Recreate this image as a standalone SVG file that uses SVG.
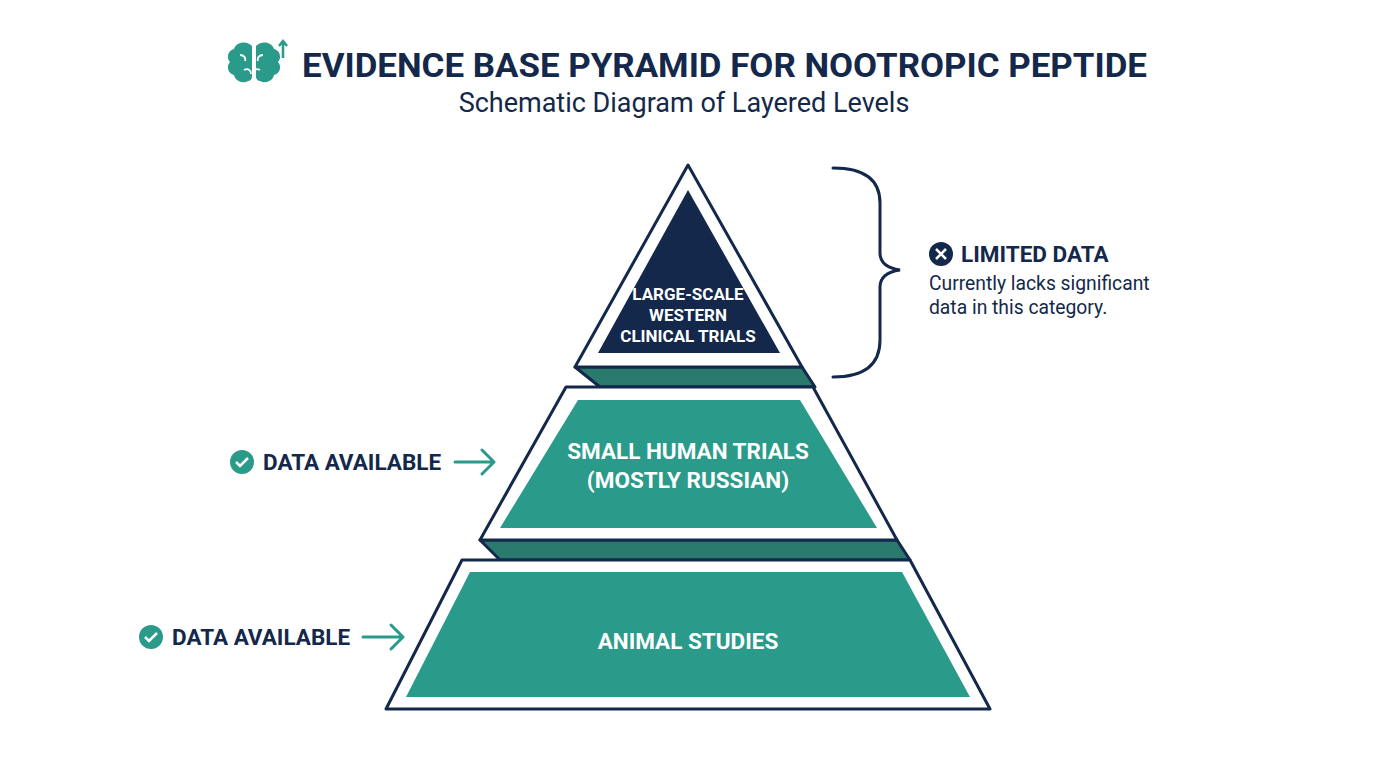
<svg xmlns="http://www.w3.org/2000/svg" width="1376" height="768" viewBox="0 0 1376 768">
<defs>
<style>
.o{fill:#fff;stroke:#13284a;stroke-width:3;stroke-linejoin:round}
.t{fill:#2a9a8a}
.s{fill:#2b7a6e;stroke:#13284a;stroke-width:3;stroke-linejoin:round}
.w{font-family:Roboto,'Liberation Sans',sans-serif;font-weight:bold;fill:#fff;text-anchor:middle}
.l{font-family:Roboto,'Liberation Sans',sans-serif;font-weight:bold;fill:#13284a;font-size:22.5px}
.a{fill:none;stroke:#2a9a8a;stroke-width:3;stroke-linecap:round;stroke-linejoin:round}
</style>
</defs>
<rect width="1376" height="768" fill="#fff"/>
<g id="title">
<g fill="#2a9a8a">
<path d="M252 46c-6-6-16-4-18 3-6 1-8 9-4 13-4 4-2 12 4 13 1 6 9 9 14 6 2 0 4-2 4-4z"/>
<path d="M256 46c6-6 16-4 18 3 6 1 8 9 4 13 4 4 2 12-4 13-1 6-9 9-14 6-2 0-4-2-4-4z"/>
<path d="M283 58v-16M279 46l4-5 4 5" stroke="#2a9a8a" stroke-width="2.5" fill="none"/>
</g>
<path d="M240 55c4 0 6 3 5 6M244 70c4-2 7 0 7 4M263 55c-4 0-6 3-5 6M260 70c-4-2-7 0-7 4" stroke="#fff" stroke-width="1.8" fill="none"/>
<text x="302" y="77" font-family="Roboto,'Liberation Sans',sans-serif" font-weight="bold" font-size="33" fill="#13284a" textLength="845" lengthAdjust="spacingAndGlyphs">EVIDENCE BASE PYRAMID FOR NOOTROPIC PEPTIDE</text>
<text x="684" y="112" font-family="Roboto,'Liberation Sans',sans-serif" font-size="27" fill="#13284a" text-anchor="middle">Schematic Diagram of Layered Levels</text>
</g>
<g id="top">
<polygon class="s" points="575,367 802,367 815,387 600,387"/>
<polygon class="o" points="688,165 802,367 575,367"/>
<polygon points="688,190 780,353 598,353" fill="#13284a"/>
<text class="w" font-size="17"><tspan x="688" y="300">LARGE-SCALE</tspan><tspan x="688" y="321">WESTERN</tspan><tspan x="688" y="342">CLINICAL TRIALS</tspan></text>
</g>
<g id="middle">
<polygon class="s" points="480,540 897,540 910,560 500,560"/>
<polygon class="o" points="566,387 813,387 897,540 480,540"/>
<polygon class="t" points="578,400 800,400 877,528 500,528"/>
<text class="w" font-size="22.5"><tspan x="688" y="459">SMALL HUMAN TRIALS</tspan><tspan x="688" y="488">(MOSTLY RUSSIAN)</tspan></text>
</g>
<g id="bottom">
<polygon class="o" points="462,560 910,560 990,709 386,709"/>
<polygon class="t" points="470,572 902,572 970,697 406,697"/>
<text class="w" font-size="22.5" x="688" y="649">ANIMAL STUDIES</text>
</g>
<g id="connectors">
<path d="M833 168q47 0 47 35v50q0 14 20 17q-20 3-20 17v53q0 37-47 37" fill="none" stroke="#13284a" stroke-width="3" stroke-linecap="round"/>
<path class="a" d="M455 462h39M482 450l12 12-12 12"/>
<path class="a" d="M363 637h40M391 625l12 12-12 12"/>
</g>
<g id="limited">
<circle cx="941" cy="254" r="12" fill="#13284a"/>
<path d="M936 249l10 10M946 249l-10 10" stroke="#fff" stroke-width="2.5"/>
<text class="l" x="961" y="262">LIMITED DATA</text>
<text font-family="Roboto,'Liberation Sans',sans-serif" font-size="19.3" fill="#13284a"><tspan x="929" y="290">Currently lacks significant</tspan><tspan x="929" y="314">data in this category.</tspan></text>
</g>
<g id="avail1">
<circle cx="242" cy="462" r="12" fill="#2a9a8a"/>
<path d="M236 462l4 4 8-8" stroke="#fff" stroke-width="2.5" fill="none"/>
<text class="l" x="263" y="470">DATA AVAILABLE</text>
</g>
<g id="avail2">
<circle cx="151" cy="637" r="12" fill="#2a9a8a"/>
<path d="M145 637l4 4 8-8" stroke="#fff" stroke-width="2.5" fill="none"/>
<text class="l" x="172" y="645">DATA AVAILABLE</text>
</g>
</svg>
